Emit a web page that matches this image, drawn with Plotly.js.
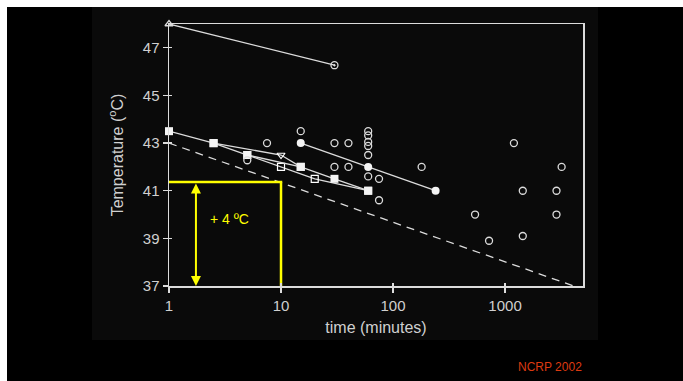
<!DOCTYPE html>
<html>
<head>
<meta charset="utf-8">
<script src="https://cdn.plot.ly/plotly-3.0.1.min.js"></script>
<style>
  html, body { margin: 0; padding: 0; background: #ffffff; width: 683px; height: 381px; overflow: hidden; }
  #outer { position: absolute; left: 7px; top: 7px; width: 676px; height: 374px; background: #000000; }
  #figbg { position: absolute; left: 92px; top: 7px; width: 506px; height: 333px; background: #0a0a0a; }
  #chart { position: absolute; left: 7px; top: 7px; width: 676px; height: 374px; }
</style>
</head>
<body>
<div id="outer"></div>
<div id="figbg"></div>
<div id="chart"></div>
<script>
// ---- data ----
const topX = [1, 30];
const topY = [48, 46.27];
const topSymbols = ['triangle-up-open', 'circle-open-dot'];

const sqX = [1, 2.5, 5, 15, 30, 60];
const sqY = [43.5, 43, 42.5, 42, 41.5, 41];

const triX = [2.5, 10, 15];
const triY = [43, 42.5, 42];
const triSymbols = ['square', 'triangle-down-open', 'square'];

const openSqX = [5, 10, 20, 60];
const openSqY = [42.5, 42, 41.5, 41];
const openSqSymbols = ['square', 'square-open', 'square-open', 'square'];

const fcX = [15, 60, 240];
const fcY = [43, 42, 41];

const ocX = [5, 7.5, 15, 30, 40, 30, 40, 60, 60, 60, 60, 60, 60, 75, 75, 180, 540, 720, 1200, 1440, 1440, 2880, 2880, 3200];
const ocY = [42.28, 43, 43.5, 43, 43, 42, 42, 43.5, 43.32, 43.05, 42.88, 42.5, 41.6, 41.5, 40.6, 42, 40, 38.9, 43, 41, 39.1, 41, 40, 42];

const dashX = [1, 4096];
const dashY = [43, 37];

const yellowX = [1, 10, 10];
const yellowY = [41.37, 41.37, 37];
const arrowX = 1.74;
const arrowY = [41.37, 37];
const deltaLabel = '+ 4 \u00BAC';
const deltaX = 2.23;
const deltaY = 39.82;

const xTicks = [1, 10, 100, 1000];
const xTickText = ['1', '10', '100', '1000'];
const yTicks = [37, 39, 41, 43, 45, 47];
const yTickText = ['37', '39', '41', '43', '45', '47'];

const creditText = 'NCRP 2002';

// ---- styling ----
const ink = '#dcdcdc';
const lineW = 1.3;
const font = 'Liberation Sans, Arial, sans-serif';

const traces = [
  { x: dashX, y: dashY, mode: 'lines', line: { color: ink, width: 1.3, dash: '8px,6px' }, hoverinfo: 'skip' },
  { x: yellowX, y: yellowY, mode: 'lines', line: { color: '#ffff00', width: 2.5 }, hoverinfo: 'skip' },
  { x: topX, y: topY, mode: 'lines+markers', cliponaxis: false, line: { color: ink, width: lineW },
    marker: { symbol: topSymbols, size: 7, color: ink, line: { color: ink, width: 1.3 } } },
  { x: triX, y: triY, mode: 'lines+markers', cliponaxis: false, line: { color: ink, width: lineW },
    marker: { symbol: triSymbols, size: 7, color: '#ffffff', line: { color: ink, width: 1.2 } } },
  { x: openSqX, y: openSqY, mode: 'lines+markers', cliponaxis: false, line: { color: ink, width: lineW },
    marker: { symbol: openSqSymbols, size: 7, color: '#ffffff', line: { color: ink, width: 1.2 } } },
  { x: sqX, y: sqY, mode: 'lines+markers', cliponaxis: false, line: { color: ink, width: lineW },
    marker: { symbol: 'square', size: 8, color: '#f4f4f4' } },
  { x: fcX, y: fcY, mode: 'lines+markers', cliponaxis: false, line: { color: ink, width: lineW },
    marker: { symbol: 'circle', size: 8, color: '#f4f4f4' } },
  { x: ocX, y: ocY, mode: 'markers', cliponaxis: false,
    marker: { symbol: 'circle-open', size: 7, color: ink, line: { color: ink, width: 1.3 } } }
];

const axisCommon = {
  showgrid: false, zeroline: false, showline: true, mirror: true,
  linecolor: ink, linewidth: 1.5, ticks: 'outside', ticklen: 5, tickwidth: 1.3, tickcolor: ink,
  tickfont: { family: font, size: 15, color: '#d0d0d0' }
};

const layout = {
  width: 676, height: 374,
  margin: { l: 162, r: 100, t: 17, b: 95 },
  paper_bgcolor: 'rgba(0,0,0,0)', plot_bgcolor: 'rgba(0,0,0,0)',
  showlegend: false,
  xaxis: Object.assign({}, axisCommon, {
    type: 'log', range: [0, 3.696], tickmode: 'array', tickvals: xTicks, ticktext: xTickText,
    title: { text: 'time (minutes)', font: { family: font, size: 16, color: '#d0d0d0' }, standoff: 9 }
  }),
  yaxis: Object.assign({}, axisCommon, {
    range: [37, 48], tickmode: 'array', tickvals: yTicks, ticktext: yTickText,
    title: { text: 'Temperature (<sup>o</sup>C)', font: { family: font, size: 16, color: '#d0d0d0' }, standoff: 15 }
  }),
  xaxis2: { type: 'log', range: [0, 3.696], overlaying: 'x', anchor: 'y2', showgrid: false, zeroline: false,
    showline: false, ticks: 'inside', ticklen: 3, tickwidth: 1.3, tickcolor: ink,
    tickmode: 'array', tickvals: xTicks, showticklabels: false },
  yaxis2: { range: [37, 48], overlaying: 'y', anchor: 'x2', showgrid: false, zeroline: false,
    showline: false, ticks: 'inside', ticklen: 3, tickwidth: 1.3, tickcolor: ink,
    tickmode: 'array', tickvals: yTicks, showticklabels: false },
  annotations: [
    { x: Math.log10(arrowX), y: arrowY[1], ax: Math.log10(arrowX), ay: arrowY[0],
      xref: 'x', yref: 'y', axref: 'x', ayref: 'y', text: '', showarrow: true,
      arrowhead: 2, startarrowhead: 2, arrowside: 'end+start', arrowsize: 1, arrowwidth: 2,
      arrowcolor: '#ffff00', standoff: 0, startstandoff: 0 },
    { x: Math.log10(deltaX), y: deltaY, xref: 'x', yref: 'y', text: deltaLabel, showarrow: false,
      xanchor: 'left', yanchor: 'middle', font: { family: font, size: 14, color: '#ffff00' } },
    { x: 0.9196, y: -0.311, xref: 'paper', yref: 'paper', text: creditText, showarrow: false,
      xanchor: 'center', yanchor: 'middle', font: { family: font, size: 12, color: '#dd3a10' } }
  ]
};

// invisible trace so the overlay tick axes are drawn
traces.push({ x: [1], y: [37], xaxis: 'x2', yaxis: 'y2', mode: 'markers', marker: { opacity: 0 }, hoverinfo: 'skip' });

Plotly.newPlot('chart', traces, layout, { staticPlot: true, displayModeBar: false });
</script>
</body>
</html>
